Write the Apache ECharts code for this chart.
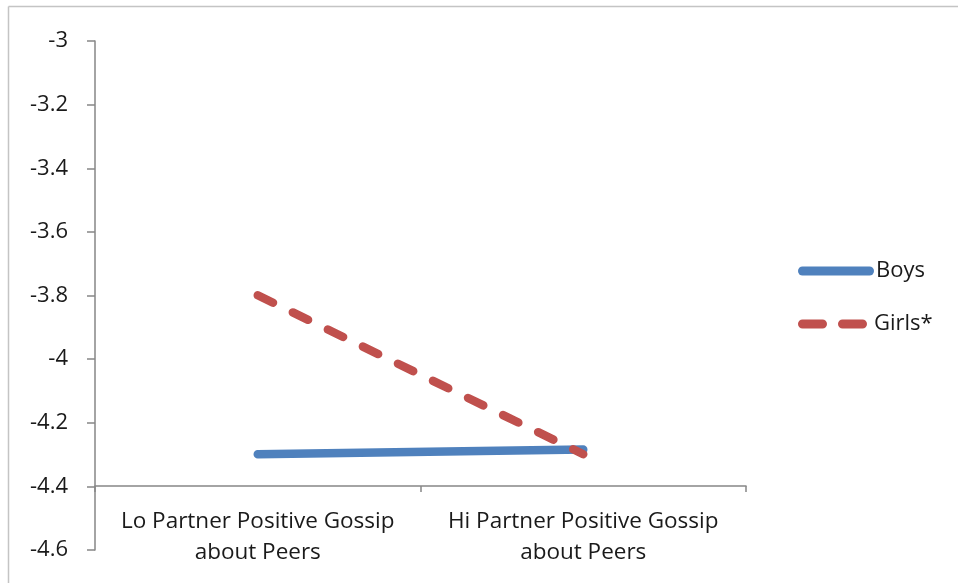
<!DOCTYPE html>
<html>
<head>
<meta charset="utf-8">
<script src="https://cdn.jsdelivr.net/npm/echarts@6/dist/echarts.min.js"></script>
<style>
html,body{margin:0;padding:0;background:#fff;}
#chart{width:958px;height:583px;}
</style>
</head>
<body>
<div id="chart"></div>
<script>
const categories = ['Lo Partner Positive Gossip\nabout Peers', 'Hi Partner Positive Gossip\nabout Peers'];
const boys = [-4.30, -4.285];
const girls = [-3.80, -4.30];
const seriesNames = ['Boys', 'Girls*'];

const font = '"Open Sans", Lato, sans-serif';
const solidIcon = 'path://M4.5,0 H71.5 A4.5,4.5 0 0 1 71.5,9 H4.5 A4.5,4.5 0 0 1 4.5,0 Z';
const dashIcon = 'path://M4.5,0 H24.5 A4.5,4.5 0 0 1 24.5,9 H4.5 A4.5,4.5 0 0 1 4.5,0 Z M44.5,0 H64.5 A4.5,4.5 0 0 1 64.5,9 H44.5 A4.5,4.5 0 0 1 44.5,0 Z';

const chart = echarts.init(document.getElementById('chart'));
chart.setOption({
  backgroundColor: '#ffffff',
  animation: false,
  graphic: [
    {type: 'line', shape: {x1: 8.5, y1: 6.5, x2: 958, y2: 6.5}, style: {stroke: '#c4c4c4', lineWidth: 1.5}},
    {type: 'line', shape: {x1: 8.5, y1: 6.5, x2: 8.5, y2: 583}, style: {stroke: '#c4c4c4', lineWidth: 1.5}}
  ],
  grid: [
    {left: 95, right: 212, top: 41, bottom: 33},
    {left: 95, right: 212, top: 41, bottom: 97}
  ],
  xAxis: [
    {type: 'category', gridIndex: 0, data: categories, show: false},
    {type: 'category', gridIndex: 1, data: categories, boundaryGap: true,
     axisLine: {lineStyle: {color: '#868686', width: 1.5}},
     axisTick: {show: true, length: 6, lineStyle: {color: '#868686', width: 1.5}},
     axisLabel: {color: '#1a1a1a', fontFamily: font, fontSize: 22.5, lineHeight: 31, margin: 20, interval: 0}}
  ],
  yAxis: [
    {type: 'value', gridIndex: 0, min: -4.6, max: -3, interval: 0.2,
     axisLine: {show: true, lineStyle: {color: '#868686', width: 1.5}},
     axisTick: {show: true, length: 8, lineStyle: {color: '#868686', width: 1.5}},
     splitLine: {show: false},
     axisLabel: {color: '#1a1a1a', fontFamily: font, fontSize: 22, margin: 27,
       formatter: v => String(Math.round(v * 10) / 10)}},
    {type: 'value', gridIndex: 1, min: -4.4, max: -3, show: false, splitLine: {show: false}}
  ],
  legend: [
    {left: 793, top: 255, itemWidth: 76, itemHeight: 9, itemGap: 0,
     textStyle: {color: '#1a1a1a', fontFamily: font, fontSize: 22, padding: [0, 0, 0, -3]},
     data: [{name: seriesNames[0], icon: solidIcon}]},
    {left: 793, top: 308, itemWidth: 69, itemHeight: 9, itemGap: 0,
     textStyle: {color: '#1a1a1a', fontFamily: font, fontSize: 22, padding: [0, 0, 0, 2]},
     data: [{name: seriesNames[1], icon: dashIcon}]}
  ],
  series: [
    {name: seriesNames[0], type: 'line', xAxisIndex: 1, yAxisIndex: 1, data: boys,
     symbol: 'none', color: '#4F81BD',
     lineStyle: {color: '#4F81BD', width: 8.5, cap: 'round'}},
    {name: seriesNames[1], type: 'line', xAxisIndex: 1, yAxisIndex: 1, data: girls,
     symbol: 'none', color: '#C0504D',
     lineStyle: {color: '#C0504D', width: 8.5, type: [17, 22], cap: 'round'}}
  ]
});
</script>
</body>
</html>
